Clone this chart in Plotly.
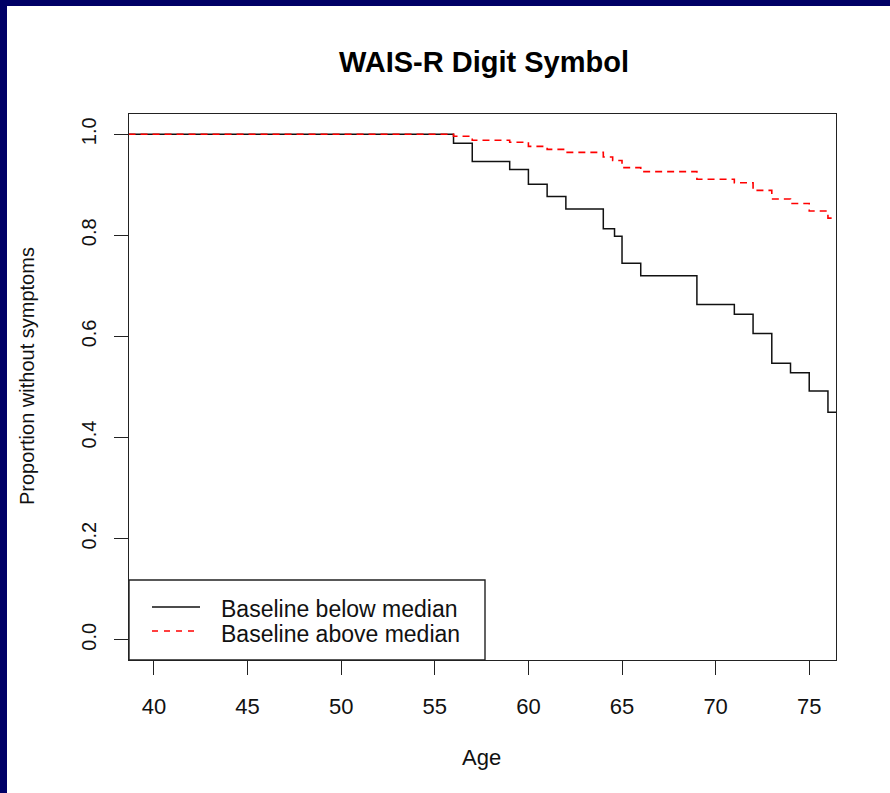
import plotly.graph_objects as go

# Kaplan-Meier style survival estimates (proportion without symptoms by age)
age_below = [38, 56, 57, 59, 60, 61, 62, 64, 64.6, 65, 66, 69, 71, 72, 73, 74, 75, 76, 76.5]
surv_below = [1.0, 0.982, 0.946, 0.930, 0.901, 0.877, 0.852, 0.813, 0.798, 0.745,
              0.720, 0.663, 0.644, 0.606, 0.547, 0.528, 0.492, 0.450, 0.450]

age_above = [38, 56, 57, 59, 60, 61, 62, 64, 64.5, 65, 66, 69, 71, 72, 73, 74, 75, 76, 76.5]
surv_above = [1.0, 0.996, 0.988, 0.984, 0.976, 0.970, 0.964, 0.955, 0.948, 0.934,
              0.926, 0.911, 0.904, 0.889, 0.872, 0.863, 0.848, 0.834, 0.834]

series_names = ["Baseline below median", "Baseline above median"]
x_ticks = [40, 45, 50, 55, 60, 65, 70, 75]
y_ticks = [0.0, 0.2, 0.4, 0.6, 0.8, 1.0]
y_tick_text = ["0.0", "0.2", "0.4", "0.6", "0.8", "1.0"]

W, H = 890, 793
L, R, T, B = 129, 54, 114, 133
PW, PH = W - L - R, H - T - B
FONT = "Liberation Sans, Arial, sans-serif"
NAVY = "#000066"
AXIS = "#222222"


def px_x(px):
    return (px - L) / PW


def px_y(py):
    return (H - B - py) / PH


fig = go.Figure()
fig.add_trace(go.Scatter(x=age_below, y=surv_below, mode="lines", line_shape="hv",
                         line=dict(color="#111111", width=1.5), name=series_names[0]))
fig.add_trace(go.Scatter(x=age_above, y=surv_above, mode="lines", line_shape="hv",
                         line=dict(color="#ff0000", width=1.6, dash="7px,5px"),
                         name=series_names[1]))

axis_common = dict(showgrid=False, zeroline=False, showline=True, mirror=True,
                   linecolor=AXIS, linewidth=1.4, ticks="outside", ticklen=14,
                   tickwidth=1.4, tickcolor=AXIS)

fig.update_xaxes(range=[38.665, 76.43], tickvals=x_ticks, ticklabelstandoff=12,
                 tickfont=dict(family=FONT, size=22, color="#111"), **axis_common)
fig.update_yaxes(range=[-0.04, 1.04], tickvals=y_ticks, ticktext=y_tick_text,
                 tickangle=-90, ticklabelstandoff=10,
                 tickfont=dict(family=FONT, size=20, color="#111"), **axis_common)

shapes = [
    # frame strips along the top and left edges of the page
    dict(type="rect", xref="paper", yref="paper", x0=px_x(0), x1=px_x(7),
         y0=px_y(H), y1=px_y(0), fillcolor=NAVY, line=dict(width=0), layer="below"),
    dict(type="rect", xref="paper", yref="paper", x0=px_x(0), x1=px_x(W),
         y0=px_y(6), y1=px_y(0), fillcolor=NAVY, line=dict(width=0), layer="below"),
    # legend box and key lines
    dict(type="rect", xref="paper", yref="paper", x0=0, x1=px_x(485),
         y0=0, y1=px_y(580), fillcolor="white", line=dict(color=AXIS, width=1.4)),
    dict(type="line", xref="paper", yref="paper", x0=px_x(152), x1=px_x(200),
         y0=px_y(607), y1=px_y(607), line=dict(color="#111111", width=1.5)),
    dict(type="line", xref="paper", yref="paper", x0=px_x(152), x1=px_x(200),
         y0=px_y(631), y1=px_y(631), line=dict(color="#ff0000", width=1.5, dash="6px,6px")),
]

annotations = [
    dict(text=series_names[0], xref="paper", yref="paper", x=px_x(219), y=px_y(609),
         xanchor="left", yanchor="middle", showarrow=False,
         font=dict(family=FONT, size=23, color="#111")),
    dict(text=series_names[1], xref="paper", yref="paper", x=px_x(219), y=px_y(634),
         xanchor="left", yanchor="middle", showarrow=False,
         font=dict(family=FONT, size=23, color="#111")),
    dict(text="Age", xref="paper", yref="paper", x=px_x(481), y=px_y(757),
         xanchor="center", yanchor="middle", showarrow=False,
         font=dict(family=FONT, size=22, color="#111")),
    dict(text="Proportion without symptoms", xref="paper", yref="paper",
         x=px_x(27), y=px_y(376), textangle=-90, xanchor="center", yanchor="middle",
         showarrow=False, font=dict(family=FONT, size=20, color="#111")),
]

fig.update_layout(
    width=W, height=H,
    margin=dict(l=L, r=R, t=T, b=B, pad=0),
    paper_bgcolor="white", plot_bgcolor="white",
    showlegend=False,
    title=dict(text="<b>WAIS-R Digit Symbol</b>", x=px_x(484), xref="paper",
               xanchor="center", y=1 - 62 / H, yref="container", yanchor="middle",
               font=dict(family=FONT, size=29, color="#000")),
    shapes=shapes,
    annotations=annotations,
)

fig.write_html("out.html")
